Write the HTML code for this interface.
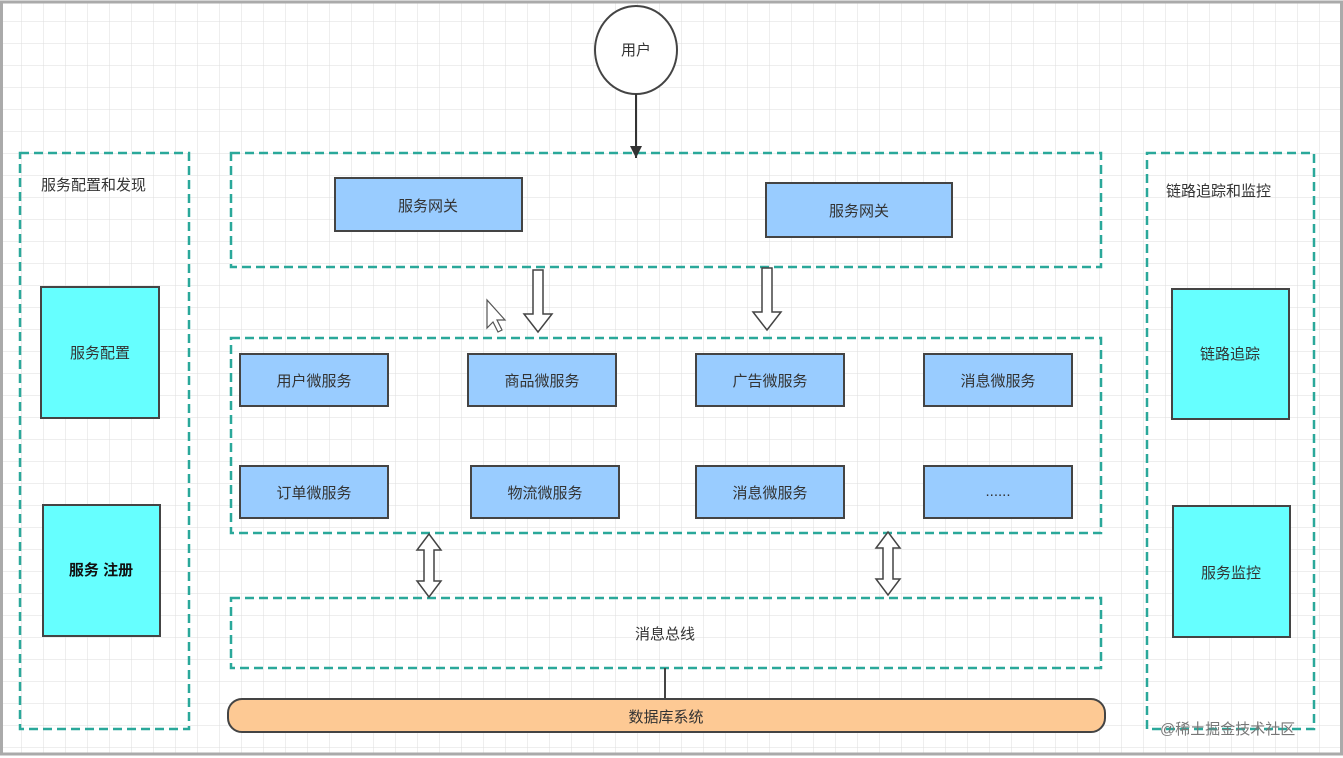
<!DOCTYPE html>
<html><head><meta charset="utf-8"><style>
html,body{margin:0;padding:0;background:#fff}
svg{display:block}
text{font-family:"Liberation Sans","Noto Sans CJK SC",sans-serif;fill:#333;font-size:15px}
</style></head><body>
<svg width="1343" height="758" viewBox="0 0 1343 758" xmlns="http://www.w3.org/2000/svg">
<defs>
<pattern id="g" width="22" height="22" patternUnits="userSpaceOnUse">
<path d="M22 0V22M0 22H22" stroke="#dedede" stroke-width="1" fill="none"/>
</pattern>
<marker id="ah" markerWidth="14" markerHeight="14" refX="12" refY="6" orient="auto" markerUnits="userSpaceOnUse">
<path d="M0 0L12 6L0 12Z" fill="#333"/></marker>
</defs>
<rect width="1343" height="758" fill="#fff"/>
<rect x="3" y="3" width="1337" height="750" fill="url(#g)"/>
<rect x="1.5" y="2" width="1340" height="752" fill="none" stroke="#aaa" stroke-width="3"/>
<g fill="none" stroke="#2aa89a" stroke-width="2.5" stroke-dasharray="9,5">
<rect x="20" y="153" width="169" height="576"/>
<rect x="231" y="153" width="870" height="114"/>
<rect x="231" y="338" width="870" height="195"/>
<rect x="231" y="598" width="870" height="70"/>
<rect x="1147" y="153" width="167" height="576"/>
</g>
<ellipse cx="636" cy="50" rx="41" ry="44" fill="#fff" stroke="#444" stroke-width="2"/>
<text x="636" y="55" text-anchor="middle" font-size="14">用户</text>
<line x1="636" y1="94" x2="636" y2="158" stroke="#333" stroke-width="2" marker-end="url(#ah)"/>
<g fill="#99ccff" stroke="#444" stroke-width="2">
<rect x="335" y="178" width="187" height="53"/>
<rect x="766" y="183" width="186" height="54"/>
<rect x="240" y="354" width="148" height="52"/>
<rect x="468" y="354" width="148" height="52"/>
<rect x="696" y="354" width="148" height="52"/>
<rect x="924" y="354" width="148" height="52"/>
<rect x="240" y="466" width="148" height="52"/>
<rect x="471" y="466" width="148" height="52"/>
<rect x="696" y="466" width="148" height="52"/>
<rect x="924" y="466" width="148" height="52"/>
</g>
<g text-anchor="middle" font-size="16">
<text x="428" y="211">服务网关</text>
<text x="859" y="216">服务网关</text>
<text x="314" y="386">用户微服务</text>
<text x="542" y="386">商品微服务</text>
<text x="770" y="386">广告微服务</text>
<text x="998" y="386">消息微服务</text>
<text x="314" y="498">订单微服务</text>
<text x="545" y="498">物流微服务</text>
<text x="770" y="498">消息微服务</text>
<text x="998" y="496">......</text>
<text x="665" y="639">消息总线</text>
</g>
<g fill="#fff" stroke="#444" stroke-width="1.5">
<path d="M533 270H543V314H552L538 332L524 314H533Z"/>
<path d="M762 268H772V312H781L767 330L753 312H762Z"/>
<path d="M429 534L441 550H434V581H441L429 597L417 581H424V550H417Z"/>
<path d="M888 532L900 548H893V579H900L888 595L876 579H883V548H876Z"/>
<path d="M487 300L487 328L493 322L498 332L502 330L497 320L505 320Z" stroke="#555" stroke-width="1.2"/>
</g>
<line x1="665" y1="668" x2="665" y2="699" stroke="#444" stroke-width="2"/>
<rect x="228" y="699" width="877" height="33" rx="14" fill="#fdc994" stroke="#444" stroke-width="2"/>
<text x="666" y="722" text-anchor="middle" font-size="16">数据库系统</text>
<g fill="#66ffff" stroke="#444" stroke-width="2">
<rect x="41" y="287" width="118" height="131"/>
<rect x="43" y="505" width="117" height="131"/>
<rect x="1172" y="289" width="117" height="130"/>
<rect x="1173" y="506" width="117" height="131"/>
</g>
<g text-anchor="middle" font-size="16">
<text x="100" y="358">服务配置</text>
<text x="101" y="575" font-weight="bold" style="fill:#111">服务 注册</text>
<text x="1230" y="359">链路追踪</text>
<text x="1231" y="578">服务监控</text>
</g>
<text x="41" y="190" font-size="15">服务配置和发现</text>
<text x="1166" y="196" font-size="15">链路追踪和监控</text>
<text x="1160" y="734" font-size="18" style="fill:#777">@稀土掘金技术社区</text>
</svg>
</body></html>
